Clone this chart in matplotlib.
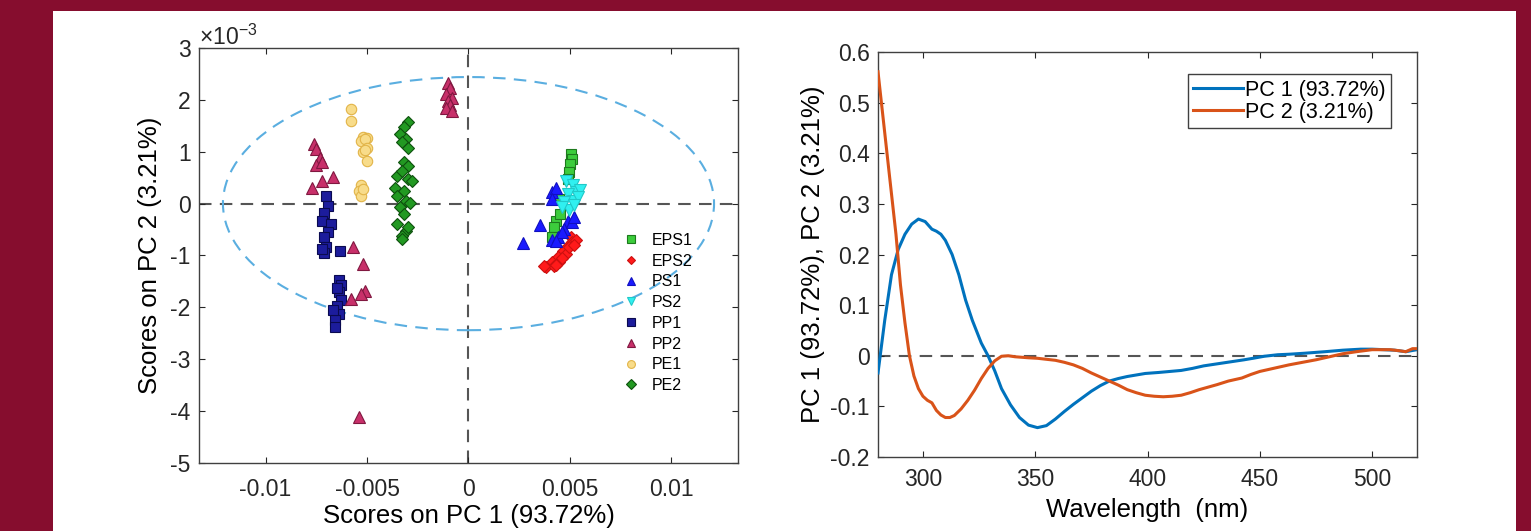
import matplotlib
matplotlib.use("Agg")
import matplotlib.pyplot as plt
from matplotlib.patches import Ellipse, Rectangle
from matplotlib.ticker import FuncFormatter
import numpy as np

plt.rcParams['font.family'] = ['Liberation Sans', 'DejaVu Sans']
plt.rcParams['mathtext.fontset'] = 'custom'
plt.rcParams['mathtext.rm'] = 'Liberation Sans'
plt.rcParams['axes.unicode_minus'] = False

# ---- 左图：PCA 得分 (y 值单位 1e-3) ----
eps1_x = [0.00505, 0.0051, 0.00502, 0.00497, 0.0049, 0.00447, 0.0043, 0.0042, 0.0041, 0.0045]
eps1_y = [0.96, 0.86, 0.76, 0.60, 0.48, 0.09, -0.33, -0.46, -0.65, -0.20]
eps2_x = [0.00505, 0.0049, 0.00464, 0.0044, 0.0041, 0.0038, 0.0051, 0.0048, 0.00495,
          0.00446, 0.0042, 0.0053, 0.0046, 0.0052, 0.0043, 0.0037]
eps2_y = [-0.65, -0.81, -0.91, -1.03, -1.13, -1.23, -0.74, -0.97, -0.84,
          -1.13, -1.20, -0.70, -1.05, -0.80, -1.18, -1.20]
ps1_x = [0.0041, 0.0043, 0.0041, 0.0035, 0.0027, 0.0041, 0.0049, 0.0047, 0.0044,
         0.0051, 0.0046, 0.0052, 0.0043]
ps1_y = [0.22, 0.30, 0.09, -0.42, -0.75, -0.71, -0.33, -0.49, -0.65,
         -0.36, -0.55, -0.25, -0.72]
ps2_x = [0.0048, 0.00513, 0.0053, 0.0049, 0.0055, 0.00513, 0.0047, 0.00497, 0.0046, 0.0054, 0.0052]
ps2_y = [0.44, 0.35, 0.22, 0.19, 0.27, 0.06, 0.03, -0.13, -0.06, 0.12, -0.02]
pp1_x = [-0.0070, -0.0069, -0.0071, -0.0072, -0.0068, -0.0069, -0.0071, -0.0070, -0.0071,
         -0.0072, -0.00635, -0.0064, -0.0063, -0.0064, -0.0063, -0.0065, -0.0064, -0.0066,
         -0.0066, -0.0067, -0.0065]
pp1_y = [0.15, -0.05, -0.19, -0.33, -0.40, -0.55, -0.64, -0.84, -0.95,
         -0.88, -0.91, -1.47, -1.56, -1.70, -1.85, -1.98, -2.12, -2.24,
         -2.37, -2.05, -1.62]
pp2_x = [-0.0010, -0.0009, -0.0011, -0.0008, -0.0010, -0.0009, -0.0011, -0.0008,
         -0.0076, -0.0075, -0.0073, -0.0075, -0.0072, -0.0067, -0.0072, -0.0077,
         -0.0057, -0.0052, -0.0051, -0.0053, -0.0058, -0.0054]
pp2_y = [2.33, 2.22, 2.12, 2.03, 1.97, 1.90, 1.84, 1.79,
         1.15, 1.05, 0.88, 0.75, 0.80, 0.52, 0.43, 0.30,
         -0.84, -1.16, -1.68, -1.74, -1.84, -4.12]
pe1_x = [-0.0058, -0.0058, -0.0052, -0.0050, -0.0053, -0.0051, -0.0050, -0.0052, -0.0051,
         -0.0050, -0.0053, -0.0054, -0.0053, -0.0052]
pe1_y = [1.82, 1.60, 1.28, 1.27, 1.21, 1.24, 1.08, 0.99, 1.03, 0.83, 0.35, 0.25, 0.15, 0.28]
pe2_x = [-0.0030, -0.0032, -0.0034, -0.0031, -0.0033, -0.0030, -0.0032, -0.0030, -0.0035,
         -0.0030, -0.0028, -0.0036, -0.0032, -0.0035, -0.0031, -0.0034, -0.0032, -0.0035,
         -0.0031, -0.0033, -0.0030, -0.0029, -0.0033, -0.0033]
pe2_y = [1.57, 1.47, 1.34, 1.25, 1.18, 1.08, 0.80, 0.73, 0.54,
         0.48, 0.44, 0.31, 0.25, 0.15, 0.06, -0.07, -0.20, -0.39,
         -0.52, -0.62, -0.45, 0.02, 0.62, -0.68]

# 置信椭圆半轴
ell_a = 0.0121
ell_b = 2.44e-3

# ---- 右图：载荷 ----
wl_pc1 = [280, 283, 286, 289, 292, 295, 298, 301, 304, 306, 308, 310, 313, 316, 319, 322,
          326, 329, 332, 335, 339, 343, 347, 351, 355, 359, 363, 367, 371, 375, 379, 383,
          387, 391, 395, 399, 405, 410, 415, 420, 425, 431, 437, 443, 447, 452, 458, 463,
          470, 479, 487, 495, 500, 505, 510, 515, 520]
pc1 = [-0.034, 0.07, 0.16, 0.21, 0.24, 0.26, 0.27, 0.265, 0.25, 0.246, 0.24, 0.228, 0.2, 0.16,
       0.11, 0.07, 0.025, 0.0, -0.03, -0.065, -0.097, -0.122, -0.137, -0.142, -0.138, -0.125,
       -0.11, -0.096, -0.083, -0.07, -0.059, -0.05, -0.045, -0.041, -0.038, -0.035, -0.033,
       -0.031, -0.029, -0.025, -0.02, -0.016, -0.012, -0.008, -0.005, -0.001, 0.002, 0.003,
       0.005, 0.008, 0.011, 0.013, 0.013, 0.012, 0.011, 0.008, 0.012]
wl_pc2 = [280, 285, 288, 290, 292, 294, 296, 298, 300, 302, 304, 306, 308, 310, 312, 314,
          317, 320, 323, 326, 329, 332, 335, 338, 341, 344, 347, 351, 355, 359, 363, 367,
          371, 375, 379, 383, 387, 391, 395, 399, 403, 407, 411, 415, 419, 423, 427, 431,
          436, 442, 446, 450, 456, 463, 469, 475, 481, 487, 493, 500, 504, 508, 512, 515,
          518, 520]
pc2 = [0.561, 0.36, 0.24, 0.14, 0.065, 0.0, -0.04, -0.065, -0.08, -0.088, -0.093, -0.108,
       -0.117, -0.122, -0.122, -0.118, -0.105, -0.088, -0.068, -0.045, -0.025, -0.01, -0.001,
       0.0, -0.002, -0.003, -0.004, -0.005, -0.007, -0.009, -0.013, -0.018, -0.025, -0.034,
       -0.042, -0.05, -0.058, -0.067, -0.073, -0.078, -0.08, -0.081, -0.08, -0.078, -0.073,
       -0.067, -0.062, -0.057, -0.05, -0.044, -0.037, -0.031, -0.025, -0.018, -0.013, -0.008,
       -0.002, 0.004, 0.008, 0.012, 0.012, 0.012, 0.01, 0.008, 0.014, 0.014]

W, H = 1531, 531
fig = plt.figure(figsize=(W / 100, H / 100), dpi=100, facecolor='#860d2e')
# 白色底板（在坐标轴下面）
panel = Rectangle((53 / W, 0), (1516 - 53) / W, (H - 11) / H, transform=fig.transFigure,
                  facecolor='white', edgecolor='none', zorder=-10)
fig.add_artist(panel)

tick_fs = 16.5
label_fs = 18.5
spine_c = '#404040'


def style_axes(ax, xpad):
    """MATLAB 风格的坐标轴"""
    for s in ax.spines.values():
        s.set_color(spine_c)
        s.set_linewidth(1.0)
    ax.tick_params(direction='in', top=True, right=True, length=4, width=0.8,
                   colors='#262626', labelsize=tick_fs, pad=6)
    ax.tick_params(axis='x', pad=xpad)


ax1 = fig.add_axes([199 / W, (H - 463) / H, 539 / W, 415 / H])
ax2 = fig.add_axes([878 / W, (H - 457) / H, 539 / W, 405 / H])

# 左图
ax1.axhline(0, color='#555555', ls=(0, (6, 4)), lw=1.5, zorder=1)
ax1.axvline(0, color='#555555', ls=(0, (6, 4)), lw=1.5, zorder=1)
ax1.add_patch(Ellipse((0, 0), 2 * ell_a, 2 * ell_b, fill=False, edgecolor='#5aaee0',
                      ls=(0, (6, 4)), lw=1.5, zorder=1))

groups = [
    ('EPS1', eps1_x, eps1_y, 's', '#3ccc3c', '#1d7a1d', 7),
    ('EPS2', eps2_x, eps2_y, 'D', '#ff1a1a', '#cc1010', 6),
    ('PS1', ps1_x, ps1_y, '^', '#1a1aff', '#1010c0', 8.5),
    ('PS2', ps2_x, ps2_y, 'v', '#30f0f0', '#20c8c8', 8.5),
    ('PP1', pp1_x, pp1_y, 's', '#1c1c9c', '#0a0a50', 7),
    ('PP2', pp2_x, pp2_y, '^', '#c8306a', '#801840', 8.5),
    ('PE1', pe1_x, pe1_y, 'o', '#f8dc8a', '#e2b448', 7.5),
    ('PE2', pe2_x, pe2_y, 'D', '#229922', '#0e500e', 6.5),
]
handles = []
for name, xs, ys, mk, fc, ec, ms in groups:
    h, = ax1.plot(np.array(xs), np.array(ys) * 1e-3, ls='none', marker=mk, mfc=fc,
                  mec=ec, ms=ms, mew=0.8, label=name, zorder=3)
    handles.append(h)

ax1.set_xlim(-0.01328, 0.01328)
ax1.set_ylim(-5e-3, 3e-3)
ax1.set_xticks([-0.01, -0.005, 0, 0.005, 0.01])
ax1.xaxis.set_major_formatter(FuncFormatter(lambda v, p: '%g' % round(v, 6)))
ax1.set_yticks(np.arange(-5, 4) * 1e-3)
ax1.yaxis.set_major_formatter(FuncFormatter(lambda v, p: '%g' % round(v * 1e3, 3)))
ax1.text(0.0, 0.996, r'$\times\mathdefault{10^{-3}}$', transform=ax1.transAxes,
         fontsize=tick_fs, color='#262626', ha='left', va='bottom')
ax1.set_xlabel('Scores on PC 1 (93.72%)', fontsize=label_fs, labelpad=2)
ax1.set_ylabel('Scores on PC 2 (3.21%)', fontsize=label_fs, labelpad=6)
style_axes(ax1, 11)
leg1 = ax1.legend(handles=handles, loc='upper left', bbox_to_anchor=(0.775, 0.57),
                  frameon=False, fontsize=11.5, markerscale=0.75, handlelength=1.0,
                  handletextpad=0.8, labelspacing=0.36, borderaxespad=0)

# 右图
ax2.axhline(0, color='#555555', ls=(0, (6, 4)), lw=1.5, zorder=1)
ax2.plot(wl_pc1, pc1, color='#0072bd', lw=2.2, label='PC 1 (93.72%)', zorder=3)
ax2.plot(wl_pc2, pc2, color='#d95319', lw=2.2, label='PC 2 (3.21%)', zorder=3)
ax2.set_xlim(280, 520)
ax2.set_ylim(-0.2, 0.6)
ax2.set_xticks([300, 350, 400, 450, 500])
ax2.set_yticks(np.round(np.arange(-0.2, 0.61, 0.1), 1))
ax2.yaxis.set_major_formatter(FuncFormatter(lambda v, p: '%g' % round(v, 2)))
ax2.set_xlabel('Wavelength  (nm)', fontsize=label_fs, labelpad=5)
ax2.set_ylabel('PC 1 (93.72%), PC 2 (3.21%)', fontsize=label_fs, labelpad=4)
style_axes(ax2, 8)
leg2 = ax2.legend(loc='upper right', bbox_to_anchor=(0.952, 0.945), fontsize=15.5,
                  fancybox=False, framealpha=1, edgecolor=spine_c, handlelength=2.3,
                  handletextpad=0.1, borderpad=0.25, labelspacing=0.05, borderaxespad=0)
leg2.get_frame().set_linewidth(1.0)

fig.savefig('out.png', dpi=100, facecolor=fig.get_facecolor())
